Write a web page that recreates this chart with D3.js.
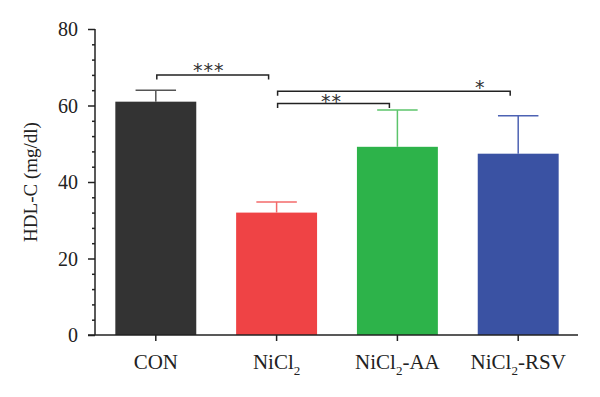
<!DOCTYPE html>
<html>
<head>
<meta charset="utf-8">
<script src="https://cdn.jsdelivr.net/npm/d3@7"></script>
<style>
  body { margin: 0; background: #fff; }
  svg { display: block; font-family: "Liberation Serif", "DejaVu Serif", serif; }
</style>
</head>
<body>
<div id="chart"></div>
<script>
// data
const groups = ["CON", "NiCl2", "NiCl2-AA", "NiCl2-RSV"];
const means = [61.0, 32.0, 49.2, 47.4];
const errors = [3.0, 2.8, 9.6, 9.9];
const barColors = ["#333333", "#ef4345", "#2db34a", "#3a52a3"];
const errColors = ["#555555", "#f36a6a", "#5cc46b", "#4d62b3"];
const yTicks = [0, 20, 40, 60, 80];
// significance brackets: [from group, to group, label, value level]
const brackets = [
  ["CON", "NiCl2", "***", 68.0],
  ["NiCl2", "NiCl2-RSV", "*", 63.7],
  ["NiCl2", "NiCl2-AA", "**", 60.5]
];

const width = 600, height = 397;
const margin = { top: 29, right: 22, bottom: 62, left: 95 };

const svg = d3.select("#chart").append("svg")
  .attr("width", width)
  .attr("height", height);

const x = d3.scaleBand()
  .domain(groups)
  .range([margin.left + 1, width - margin.right])
  .paddingInner(0.33)
  .paddingOuter(0.16);

const y = d3.scaleLinear()
  .domain([0, 80])
  .range([height - margin.bottom, margin.top]);

// bars
svg.append("g")
  .selectAll("rect")
  .data(groups)
  .join("rect")
  .attr("x", (d) => x(d))
  .attr("y", (d, i) => y(means[i]))
  .attr("width", x.bandwidth())
  .attr("height", (d, i) => y(0) - y(means[i]))
  .attr("fill", (d, i) => barColors[i]);

// error bars (upper only)
const err = svg.append("g").attr("stroke-width", 1.5);
groups.forEach((g, i) => {
  const cx = x(g) + x.bandwidth() / 2;
  const capHalf = x.bandwidth() / 4;
  err.append("line")
    .attr("x1", cx).attr("x2", cx)
    .attr("y1", y(means[i])).attr("y2", y(means[i] + errors[i]))
    .attr("stroke", errColors[i]);
  err.append("line")
    .attr("x1", cx - capHalf).attr("x2", cx + capHalf)
    .attr("y1", y(means[i] + errors[i])).attr("y2", y(means[i] + errors[i]))
    .attr("stroke", errColors[i]);
});

// y axis with minor ticks
const yAxis = svg.append("g")
  .attr("transform", `translate(${margin.left},0)`);

yAxis.call(
  d3.axisLeft(y).tickValues(d3.range(0, 81, 4)).tickSize(3).tickFormat("")
);
yAxis.attr("font-family", null).attr("font-size", null);
yAxis.call((g) => g.selectAll(".tick")
  .filter((d) => yTicks.includes(d))
  .select("line").attr("x2", -7));
yAxis.selectAll(".tick").filter((d) => yTicks.includes(d))
  .append("text")
  .attr("x", -17)
  .attr("dy", "0.34em")
  .attr("text-anchor", "end")
  .attr("fill", "#222")
  .style("font-size", "20px")
  .text((d) => d);
yAxis.select(".domain").attr("d", `M0,${y(0)}V${y(80)}`);
yAxis.selectAll("line, path").attr("stroke", "#222").attr("stroke-width", 1.5);

// x axis
const xAxis = svg.append("g")
  .attr("transform", `translate(0,${y(0)})`)
  .call(d3.axisBottom(x).tickSize(6).tickFormat(""));
xAxis.attr("font-family", null).attr("font-size", null);
xAxis.select(".domain")
  .attr("d", `M${margin.left - 7},0H${width - margin.right}`);
xAxis.selectAll("line, path").attr("stroke", "#222").attr("stroke-width", 1.5);

// category labels with subscript 2
xAxis.selectAll(".tick").each(function (d) {
  const t = d3.select(this).append("text")
    .attr("y", 34)
    .attr("text-anchor", "middle")
    .attr("fill", "#222")
    .style("font-size", "21px");
  const m = d.match(/^NiCl2(.*)$/);
  if (m) {
    t.append("tspan").text("NiCl");
    t.append("tspan").attr("dy", 6).style("font-size", "13px").text("2");
    if (m[1]) t.append("tspan").attr("dy", -6).text(m[1]);
  } else {
    t.text(d);
  }
});

// y axis title
svg.append("text")
  .attr("transform", `translate(37,${(y(0) + y(80)) / 2}) rotate(-90)`)
  .attr("text-anchor", "middle")
  .attr("fill", "#222")
  .style("font-size", "19px")
  .text("HDL-C (mg/dl)");

// significance brackets
const br = svg.append("g");
brackets.forEach(([a, b, label, level]) => {
  const x1 = x(a) + x.bandwidth() / 2 + 1;
  const x2 = x(b) + x.bandwidth() / 2 - 8;
  const yy = y(level);
  br.append("path")
    .attr("d", `M${x1},${yy + 4.5}V${yy}H${x2}V${yy + 4.5}`)
    .attr("fill", "none")
    .attr("stroke", "#222")
    .attr("stroke-width", 1.5);
  const tx = label === "*" ? x2 - 30 : (x1 + x2) / 2 - (label === "***" ? 4 : 2);
  br.append("text")
    .attr("x", tx)
    .attr("y", yy + (label === "**" ? 4 : 2.5))
    .attr("text-anchor", "middle")
    .attr("fill", "#333")
    .style("font-family", "'DejaVu Sans', sans-serif")
    .style("font-size", "19px")
    .style("letter-spacing", "1px")
    .text(label);
});
</script>
</body>
</html>
